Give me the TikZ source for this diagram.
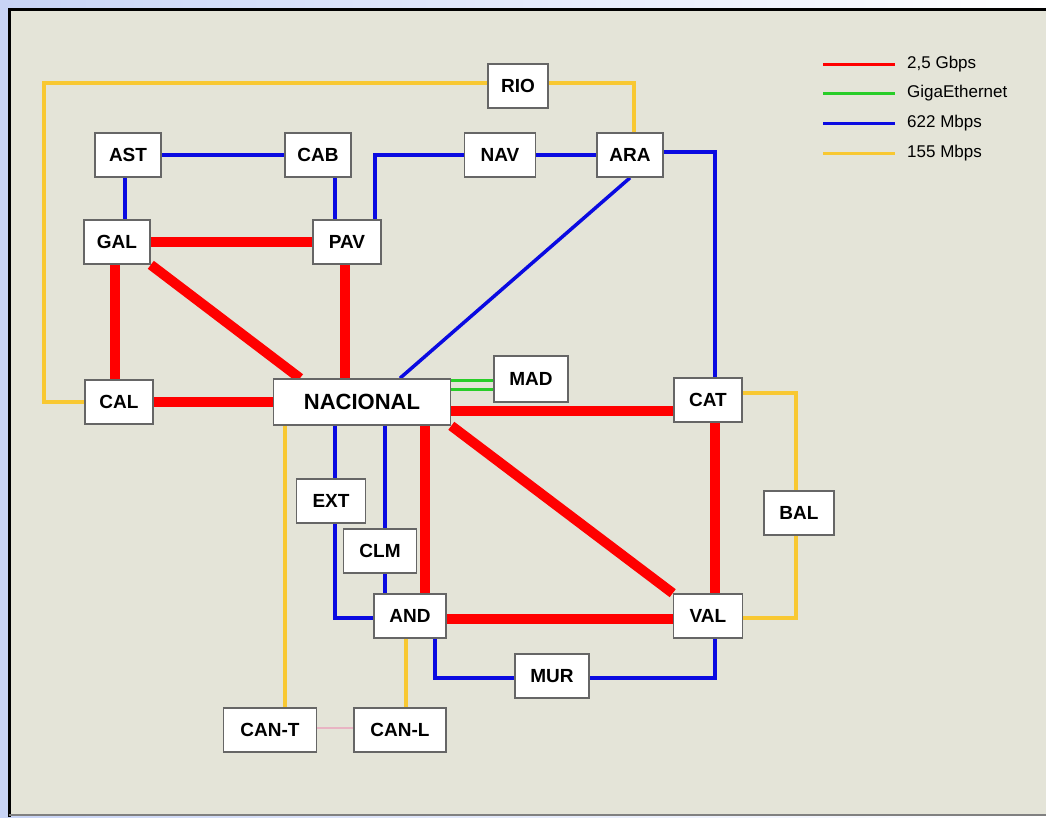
\documentclass[tikz,border=0pt]{standalone}
\usepackage{fontspec}
\setmainfont{Liberation Sans}

\pgfdeclarelayer{back}
\pgfdeclarelayer{links}
\pgfsetlayers{back,links,main}

\definecolor{panel}{RGB}{228,228,216}
\definecolor{edgeblue}{RGB}{200,212,246}
\definecolor{rlink}{RGB}{255,0,0}
\definecolor{glink}{RGB}{40,205,40}
\definecolor{blink}{RGB}{10,10,225}
\definecolor{ylink}{RGB}{248,200,50}
\definecolor{plink}{RGB}{232,180,195}

\tikzset{
  box/.style={draw=black!60, line width=1.6pt, fill=white, inner sep=0pt,
    minimum width=66pt, minimum height=44pt,
    font=\fontsize{19}{19}\selectfont\bfseries},
  gbps/.style={draw=rlink, line width=10pt},
  giga/.style={draw=glink, line width=3pt},
  mbps622/.style={draw=blink, line width=3.5pt},
  mbps155/.style={draw=ylink, line width=3.5pt},
  canlink/.style={draw=plink, line width=2pt},
  legtext/.style={anchor=west, inner sep=0pt, font=\fontsize{17}{17}\selectfont}
}

\begin{document}
\begin{tikzpicture}[x=1pt,y=-1pt]

      \useasboundingbox (0,0) rectangle (1046,817);

      \begin{scope}[every node/.style={box}]
        \node (RIO)  at (518,86)  [minimum width=60pt] {RIO};
        \node (AST)  at (128,155) {AST};
        \node (CAB)  at (318,155) {CAB};
        \node (NAV)  at (500,155) [minimum width=71pt] {NAV};
        \node (ARA)  at (630,155) {ARA};
        \node (GAL)  at (117,242) {GAL};
        \node (PAV)  at (347,242) [minimum width=68pt] {PAV};
        \node (CAL)  at (119,402) [minimum width=68pt] {CAL};
        \node (NAC)  at (362,402) [minimum width=177pt, minimum height=46pt,
                                   font=\fontsize{22}{22}\selectfont\bfseries] {NACIONAL};
        \node (MAD)  at (531,379) [minimum width=74pt, minimum height=46pt] {MAD};
        \node (CAT)  at (708,400) [minimum width=68pt] {CAT};
        \node (EXT)  at (331,501) [minimum width=69pt] {EXT};
        \node (CLM)  at (380,551) [minimum width=73pt] {CLM};
        \node (AND)  at (410,616) [minimum width=72pt] {AND};
        \node (BAL)  at (799,513) [minimum width=70pt] {BAL};
        \node (VAL)  at (708,616) [minimum width=69pt] {VAL};
        \node (MUR)  at (552,676) [minimum width=74pt] {MUR};
        \node (CANT) at (270,730) [minimum width=93pt] {CAN-T};
        \node (CANL) at (400,730) [minimum width=92pt] {CAN-L};
      \end{scope}

      % legend
      \coordinate (k1) at (823,64);
      \coordinate (k2) at (823,93);
      \coordinate (k3) at (823,123);
      \coordinate (k4) at (823,153);
      \node[legtext] (t1) at (907,64)  {2,5 Gbps};
      \node[legtext] (t2) at (907,93)  {GigaEthernet};
      \node[legtext] (t3) at (907,123) {622 Mbps};
      \node[legtext] (t4) at (907,153) {155 Mbps};

      \begin{pgfonlayer}{back}
        \shade[left color=edgeblue, right color=white] (0,0) rectangle (1046,817);
        \fill[panel] (8,8) rectangle (1046,815);
        \draw[line width=3pt] (9,817) -- (9,9) -- (1046,9);
        \draw[black!50, line width=1.5pt] (9,815) -- (1046,815);
      \end{pgfonlayer}

      \begin{pgfonlayer}{links}
        % 2,5 Gbps
        \draw[gbps] (GAL) -- (PAV);
        \draw[gbps] ([xshift=-2pt]GAL.south) -- ([xshift=-2pt]GAL.south |- CAL.north);
        \draw[gbps] (GAL.south east) -- ([xshift=-62pt]NAC.north);
        \draw[gbps] ([xshift=-2pt]PAV.south) -- ([xshift=-2pt]PAV.south |- NAC.north);
        \draw[gbps] (CAL) -- (NAC);
        \draw[gbps] ([yshift=-9pt]NAC.east) -- ([yshift=-9pt]NAC.east -| CAT.west);
        \draw[gbps] ([xshift=63pt]NAC.south) -- ([xshift=63pt]NAC.south |- AND.north);
        \draw[gbps] (NAC.south east) -- (VAL.north west);
        \draw[gbps] ([yshift=-3pt]AND.east) -- ([yshift=-3pt]AND.east -| VAL.west);
        \draw[gbps] ([xshift=7pt]CAT.south) -- ([xshift=7pt]CAT.south |- VAL.north);

        % GigaEthernet
        \draw[giga] ([yshift=-1.5pt]MAD.west) -- ([yshift=-1.5pt]MAD.west -| NAC.east);
        \draw[giga] ([yshift=-10pt]MAD.west) -- ([yshift=-10pt]MAD.west -| NAC.east);

        % 622 Mbps
        \draw[mbps622] (AST) -- (CAB);
        \draw[mbps622] ([xshift=-3pt]AST.south) -- ([xshift=-3pt]AST.south |- GAL.north);
        \draw[mbps622] ([xshift=17pt]CAB.south) -- ([xshift=17pt]CAB.south |- PAV.north);
        \draw[mbps622] ([xshift=28pt]PAV.north) |- (NAV.west);
        \draw[mbps622] (NAV) -- (ARA);
        \draw[mbps622] ([yshift=3pt]ARA.east) -| ([xshift=7pt]CAT.north);
        \draw[mbps622] (ARA.south) -- ([xshift=38pt]NAC.north);
        \draw[mbps622] ([xshift=-27pt]NAC.south) -- ([xshift=-27pt]NAC.south |- EXT.north);
        \draw[mbps622] ([xshift=4pt]EXT.south) |- ([yshift=-2pt]AND.west);
        \draw[mbps622] ([xshift=23pt]NAC.south) -- ([xshift=23pt]NAC.south |- CLM.north);
        \draw[mbps622] ([xshift=5pt]CLM.south) -- ([xshift=5pt]CLM.south |- AND.north);
        \draw[mbps622] ([xshift=25pt]AND.south) |- ([yshift=-2pt]MUR.west);
        \draw[mbps622] ([yshift=-2pt]MUR.east) -| ([xshift=7pt]VAL.south);

        % 155 Mbps
        \coordinate (rioW) at (44,83);
        \draw[mbps155] ([yshift=3pt]RIO.west) -- (rioW) |- (CAL.west);
        \draw[mbps155] ([yshift=3pt]RIO.east) -| ([xshift=4pt]ARA.north);
        \draw[mbps155] ([yshift=7pt]CAT.east) -| ([xshift=-3pt]BAL.north);
        \draw[mbps155] ([xshift=-3pt]BAL.south) |- ([yshift=-2pt]VAL.east);
        \draw[mbps155] ([xshift=15pt]CANT.north) -- ([xshift=15pt]CANT.north |- NAC.south);
        \draw[mbps155] ([xshift=6pt]CANL.north) -- ([xshift=6pt]CANL.north |- AND.south);
        \draw[canlink] ([yshift=2pt]CANT.east) -- ([yshift=2pt]CANL.west);

        % legend keys
        \draw[rlink, line width=3pt] (k1) -- ([xshift=-12pt]k1 -| t1.west);
        \draw[glink, line width=3pt] (k2) -- ([xshift=-12pt]k2 -| t2.west);
        \draw[blink, line width=3pt] (k3) -- ([xshift=-12pt]k3 -| t3.west);
        \draw[ylink, line width=3pt] (k4) -- ([xshift=-12pt]k4 -| t4.west);
      \end{pgfonlayer}

    \end{tikzpicture}
\end{document}
